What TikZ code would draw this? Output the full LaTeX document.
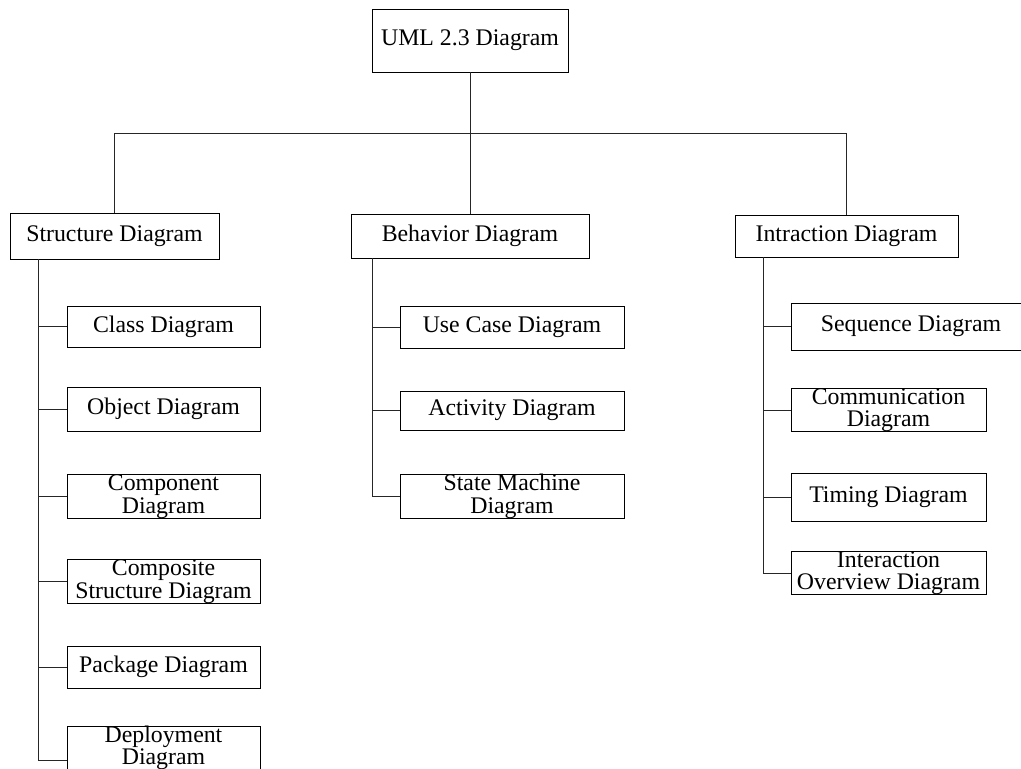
\documentclass[tikz,border=0pt]{standalone}
\usepackage{fontspec}
\setmainfont{Liberation Serif}

\begin{document}
\begin{tikzpicture}[
        x=1bp, y=-1bp,
        box/.style={
            rectangle, draw=black, fill=white, line width=0.8bp,
            inner sep=0pt, align=center,
            font=\fontsize{23.8bp}{22.5bp}\selectfont
        },
        link/.style={draw=black!85, line width=0.8bp}
    ]
    % frame of the picture
    \clip (0,0) rectangle (1021,769);

    % Root
    \node[box, minimum width=196bp, minimum height=63bp] (root) at (470,40.5) {UML 2.3 Diagram};

    % Categories
    \node[box, minimum width=209bp, minimum height=46bp] (sd) at (114.5,236) {Structure Diagram};
    \node[box, minimum width=238bp, minimum height=44bp] (bd) at (470,236) {Behavior Diagram};
    \node[box, minimum width=223bp, minimum height=42bp] (id) at (846.5,236) {Intraction Diagram};

    % Structure diagrams
    \node[box, minimum width=193bp, minimum height=41bp] (cls) at (163.5,326.5) {Class Diagram};
    \node[box, minimum width=193bp, minimum height=44bp] (obj) at (163.5,409) {Object Diagram};
    \node[box, minimum width=193bp, minimum height=41bp] (cmp) at (163.5,496.5) {Component\\Diagram};
    \node[box, minimum width=193bp, minimum height=43bp] (csd) at (163.5,581.5) {Composite\\Structure Diagram};
    \node[box, minimum width=193bp, minimum height=42bp] (pkg) at (163.5,667) {Package Diagram};
    \node[box, minimum width=193bp, minimum height=40bp] (dep) at (163.5,748) {Deployment\\Diagram};

    % Behavior diagrams
    \node[box, minimum width=224bp, minimum height=42bp] (uc) at (512,327) {Use Case Diagram};
    \node[box, minimum width=224bp, minimum height=39bp] (act) at (512,410.5) {Activity Diagram};
    \node[box, minimum width=224bp, minimum height=41bp] (sm) at (512,496.5) {State Machine\\Diagram};

    % Interaction diagrams
    \node[box, minimum width=240bp, minimum height=47bp] (seq) at (911,326.5) {Sequence Diagram};
    \node[box, minimum width=195bp, minimum height=42bp] (com) at (888.5,410) {Communication\\Diagram};
    \node[box, minimum width=195bp, minimum height=48bp] (tim) at (888.5,497) {Timing Diagram};
    \node[box, minimum width=195bp, minimum height=40bp] (iod) at (888.5,573) {Interaction\\Overview Diagram};

    % Root to categories
    \draw[link] (root.south) -- ++(0,61) -| (sd.north);
    \draw[link] (root.south) -- (bd.north);
    \draw[link] (root.south) -- ++(0,61) -| (id.north);

    % Structure branches
    \coordinate (sdspine) at (38,259);
    \draw[link] (sdspine) |- (cls.west);
    \draw[link] (sdspine) |- (obj.west);
    \draw[link] (sdspine) |- (cmp.west);
    \draw[link] (sdspine) |- (csd.west);
    \draw[link] (sdspine) |- (pkg.west);
    \draw[link] (sdspine) |- ([yshift=-12bp]dep.west);

    % Behavior branches
    \coordinate (bdspine) at (372,258);
    \draw[link] (bdspine) |- (uc.west);
    \draw[link] (bdspine) |- (act.west);
    \draw[link] (bdspine) |- (sm.west);

    % Interaction branches
    \coordinate (idspine) at (763,257);
    \draw[link] (idspine) |- (seq.west);
    \draw[link] (idspine) |- (com.west);
    \draw[link] (idspine) |- (tim.west);
    \draw[link] (idspine) |- (iod.west);
\end{tikzpicture}
\end{document}
